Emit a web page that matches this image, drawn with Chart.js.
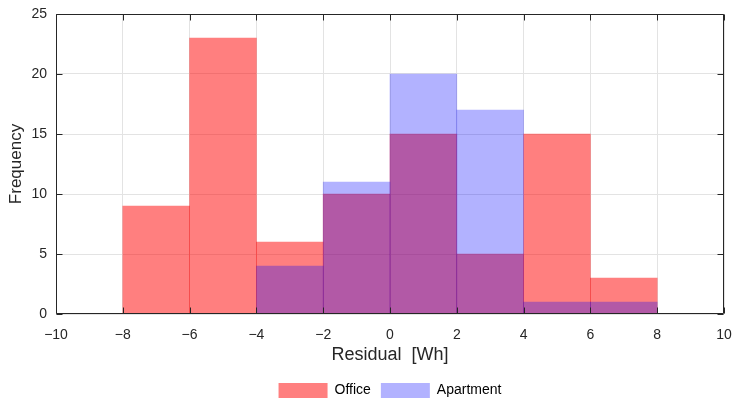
<!DOCTYPE html>
<html>
<head>
<meta charset="utf-8">
<script src="https://cdn.jsdelivr.net/npm/chart.js@4/dist/chart.umd.min.js"></script>
<style>
body { margin: 0; background: #fff; }
#wrap { width: 733px; height: 399px; }
</style>
</head>
<body>
<div id="wrap"><canvas id="myChart"></canvas></div>
<script>
// histogram bins (width 2), centers on the residual axis
const binCenters = [-7, -5, -3, -1, 1, 3, 5, 7];
const officeCounts = [9, 23, 6, 10, 15, 5, 15, 3];
const apartmentCounts = [0, 0, 4, 11, 20, 17, 1, 1];
const xTickValues = [-10, -8, -6, -4, -2, 0, 2, 4, 6, 8, 10];
const yTickValues = [0, 5, 10, 15, 20, 25];

const textColor = '#262626';
Chart.defaults.font.family = "'Liberation Sans', Arial, sans-serif";
Chart.defaults.color = textColor;

// matlab-ish box with inward tick marks
const boxPlugin = {
    id: 'box',
    afterDatasetsDraw(chart) {
        const { ctx, chartArea: a, scales } = chart;
        const L = Math.round(a.left) + 0.5, R = Math.round(a.right) - 0.5;
        const T = Math.round(a.top) + 0.5, B = Math.round(a.bottom) - 0.5;
        const len = 6;
        ctx.save();
        ctx.strokeStyle = textColor;
        ctx.lineWidth = 1;
        ctx.beginPath();
        ctx.rect(L, T, R - L, B - T);
        xTickValues.forEach(v => {
            const px = Math.round(scales.x.getPixelForValue(v)) + 0.5;
            ctx.moveTo(px, B); ctx.lineTo(px, B - len);
            ctx.moveTo(px, T); ctx.lineTo(px, T + len);
        });
        yTickValues.forEach(v => {
            const py = Math.round(scales.y.getPixelForValue(v)) + 0.5;
            ctx.moveTo(L, py); ctx.lineTo(L + len, py);
            ctx.moveTo(R, py); ctx.lineTo(R - len, py);
        });
        ctx.stroke();
        ctx.restore();
    }
};

const ctx = document.getElementById('myChart').getContext('2d');
const myChart = new Chart(ctx, {
    type: 'bar',
    data: {
        datasets: [{
            label: 'Office',
            data: binCenters.map((c, i) => ({ x: c, y: officeCounts[i] })),
            backgroundColor: 'rgba(255, 0, 0, 0.5)',
            borderWidth: 0,
            order: 1
        }, {
            label: 'Apartment',
            data: binCenters.map((c, i) => ({ x: c, y: apartmentCounts[i] })),
            backgroundColor: 'rgba(0, 0, 255, 0.3)',
            borderWidth: 0,
            order: 0
        }]
    },
    options: {
        responsive: true,
        maintainAspectRatio: false,
        animation: false,
        grouped: false,
        barPercentage: 1,
        categoryPercentage: 1,
        layout: { padding: { top: 14, right: 9, left: 0, bottom: -9 } },
        plugins: {
            legend: {
                position: 'bottom',
                fullSize: false,
                labels: {
                    boxWidth: 49,
                    boxHeight: 15,
                    padding: 10,
                    font: { size: 14 },
                    color: '#000',
                    sort: (a, b) => a.datasetIndex - b.datasetIndex
                }
            },
            tooltip: { enabled: false }
        },
        scales: {
            x: {
                type: 'linear',
                min: -10,
                max: 10,
                offset: false,
                afterFit: s => { s.height = 59; s.paddingLeft = 0; s.paddingRight = 0; },
                afterBuildTicks: s => { s.ticks = xTickValues.map(v => ({ value: v })); },
                ticks: {
                    padding: 13,
                    font: { size: 14 },
                    color: textColor,
                    maxRotation: 0,
                    callback: v => String(v).replace('-', '\u2212')
                },
                grid: { offset: false, color: '#e3e3e3', drawTicks: false },
                border: { display: false },
                title: {
                    display: true,
                    text: 'Residual  [Wh]',
                    font: { size: 18 },
                    color: textColor,
                    padding: { top: 0, bottom: 7 }
                }
            },
            y: {
                min: 0,
                max: 25,
                afterFit: s => { s.width = 56; s.paddingTop = 0; s.paddingBottom = 0; },
                afterBuildTicks: s => { s.ticks = yTickValues.map(v => ({ value: v })); },
                ticks: { padding: 9, font: { size: 14 }, color: textColor },
                grid: { color: '#e3e3e3', drawTicks: false },
                border: { display: false },
                title: {
                    display: true,
                    text: 'Frequency',
                    font: { size: 17 },
                    color: textColor,
                    padding: { top: 6, bottom: 0 }
                }
            }
        }
    },
    plugins: [boxPlugin]
});
</script>
</body>
</html>
